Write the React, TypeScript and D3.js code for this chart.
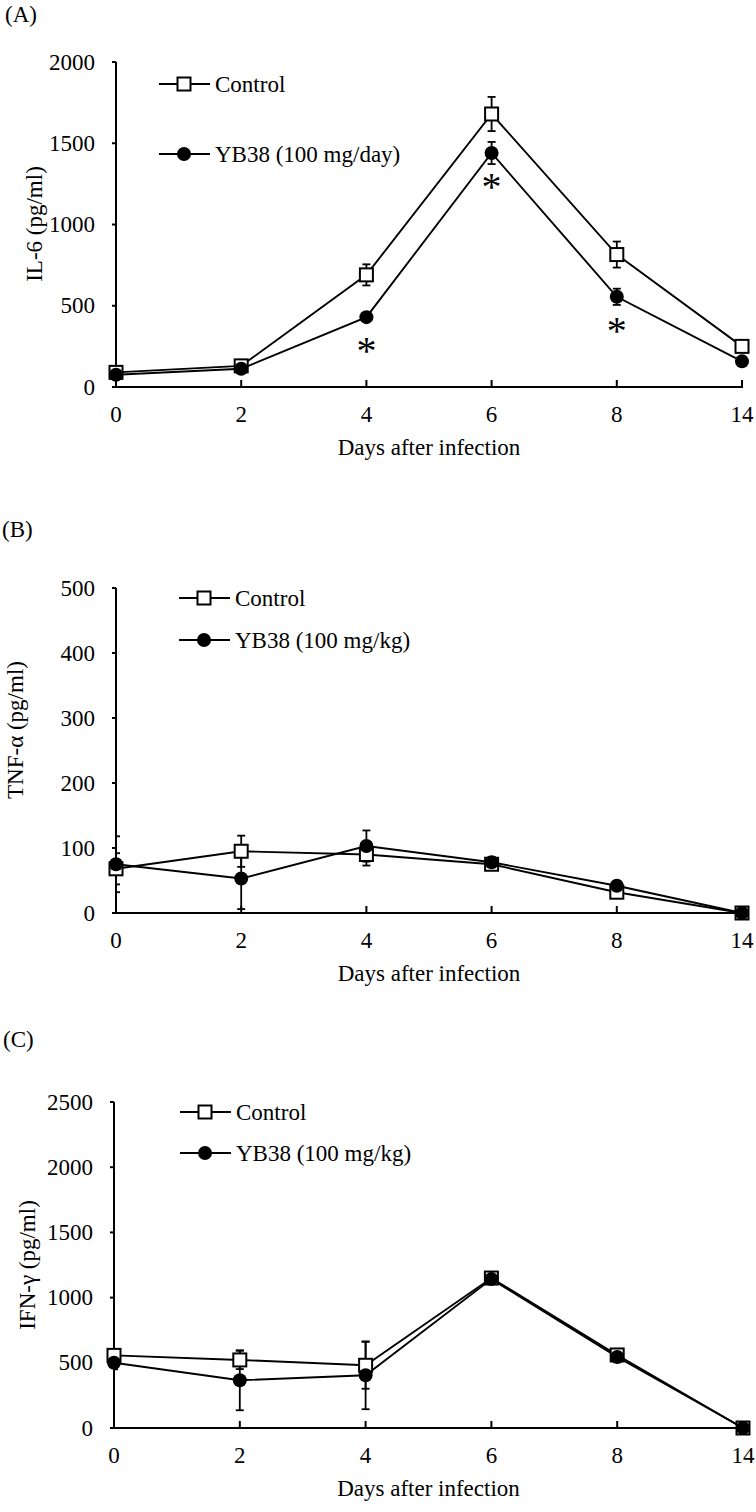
import React from "react";
import * as d3 from "d3";

const days = ["0", "2", "4", "6", "8", "14"];

// Panel A: IL-6
const il6Control = [90, 130, 690, 1680, 815, 250];
const il6ControlErr = [15, 20, 65, 105, 80, 20];
const il6YB38 = [75, 112, 430, 1440, 555, 158];
const il6YB38Err = [10, 15, 20, 68, 50, 15];
const il6Ticks = [0, 500, 1000, 1500, 2000];
const il6Stars = [2, 3, 4]; // indices of days with significance

// Panel B: TNF-α
const tnfControl = [68, 95, 90, 75, 32, 0];
const tnfControlErr = [24, 24, 17, 8, 8, 0];
const tnfYB38 = [75, 53, 103, 78, 42, 0];
const tnfYB38Err = [43, 47, 24, 8, 6, 0];
const tnfTicks = [0, 100, 200, 300, 400, 500];

// Panel C: IFN-γ
const ifnControl = [557, 522, 481, 1150, 560, 0];
const ifnControlErr = [40, 70, 180, 30, 40, 0];
const ifnYB38 = [500, 366, 404, 1142, 545, 0];
const ifnYB38Err = [50, 230, 260, 30, 40, 0];
const ifnTicks = [0, 500, 1000, 1500, 2000, 2500];

const FONT = "'Liberation Serif', 'Times New Roman', serif";
const FS = 23;

type PanelProps = {
  id: string;
  label: string;
  labelPos: [number, number];
  yTitle: string;
  yTitlePos: [number, number];
  x0: number;
  x1: number;
  yTop: number;
  yBottom: number;
  yMax: number;
  ticks: number[];
  control: number[];
  controlErr: number[];
  yb: number[];
  ybErr: number[];
  legend2: string;
  legendX: number;
  legendY: [number, number];
  stars?: number[];
};

function Panel(p: PanelProps) {
  const x = d3.scalePoint<string>().domain(days).range([p.x0, p.x1]);
  const y = d3.scaleLinear().domain([0, p.yMax]).range([p.yBottom, p.yTop]);
  const line = d3
    .line<number>()
    .x((_, i) => x(days[i]) as number)
    .y((v) => y(v));
  const clipId = `clip-${p.id}`;
  const cap = 4;
  const sq = 13;
  const r = 7;
  const errBars = (vals: number[], errs: number[], key: string) =>
    vals.map((v, i) => {
      const cx = x(days[i]) as number;
      const e = errs[i];
      if (!e) return null;
      const yt = y(v + e);
      const yb = y(Math.max(0, v - e));
      return (
        <g key={`${key}-${i}`} stroke="#000" strokeWidth={1.8}>
          <line x1={cx} x2={cx} y1={yt} y2={yb} />
          <line x1={cx - cap} x2={cx + cap} y1={yt} y2={yt} />
          <line x1={cx - cap} x2={cx + cap} y1={yb} y2={yb} />
        </g>
      );
    });
  const midX = (p.x0 + p.x1) / 2;
  return (
    <g fontFamily={FONT} fontSize={FS} fill="#000">
      <defs>
        <clipPath id={clipId}>
          <rect x={p.x0} y={p.yTop - 40} width={p.x1 - p.x0 + 20} height={p.yBottom - p.yTop + 40} />
        </clipPath>
      </defs>
      <text x={p.labelPos[0]} y={p.labelPos[1]}>{p.label}</text>
      {/* y axis */}
      <line x1={p.x0} x2={p.x0} y1={p.yTop} y2={p.yBottom + 1} stroke="#000" strokeWidth={2} />
      {p.ticks.map((t) => (
        <g key={`yt-${t}`}>
          <line x1={p.x0 - 4} x2={p.x0} y1={y(t)} y2={y(t)} stroke="#000" strokeWidth={2} />
          <text x={p.x0 - 21} y={y(t) + 7.6} textAnchor="end">{t}</text>
        </g>
      ))}
      {/* x axis */}
      <line x1={p.x0 - 1} x2={p.x1 + 1} y1={p.yBottom} y2={p.yBottom} stroke="#000" strokeWidth={2} />
      {days.map((d) => (
        <g key={`xt-${d}`}>
          <line x1={x(d)} x2={x(d)} y1={p.yBottom - 7} y2={p.yBottom} stroke="#000" strokeWidth={2} />
          <text x={x(d)} y={p.yBottom + 35} textAnchor="middle">{d}</text>
        </g>
      ))}
      <text x={midX} y={p.yBottom + 68} textAnchor="middle">Days after infection</text>
      <text
        transform={`translate(${p.yTitlePos[0]},${p.yTitlePos[1]}) rotate(-90)`}
        textAnchor="middle"
      >
        {p.yTitle}
      </text>
      {/* error bars */}
      <g clipPath={`url(#${clipId})`}>
        {errBars(p.control, p.controlErr, "ce")}
        {errBars(p.yb, p.ybErr, "ye")}
      </g>
      {/* lines */}
      <path d={line(p.control) || ""} fill="none" stroke="#000" strokeWidth={1.9} />
      <path d={line(p.yb) || ""} fill="none" stroke="#000" strokeWidth={1.9} />
      {/* markers */}
      {p.control.map((v, i) => (
        <rect
          key={`cm-${i}`}
          x={(x(days[i]) as number) - sq / 2}
          y={y(v) - sq / 2}
          width={sq}
          height={sq}
          fill="#fff"
          stroke="#000"
          strokeWidth={2}
        />
      ))}
      {p.yb.map((v, i) => (
        <circle key={`ym-${i}`} cx={x(days[i]) as number} cy={y(v)} r={r} fill="#000" />
      ))}
      {/* significance */}
      {(p.stars || []).map((i) => (
        <text
          key={`st-${i}`}
          x={x(days[i]) as number}
          y={y(p.yb[i]) + 30 + 17}
          textAnchor="middle"
          fontSize={40}
        >
          *
        </text>
      ))}
      {/* legend */}
      <g>
        <line x1={p.legendX} x2={p.legendX + 51} y1={p.legendY[0]} y2={p.legendY[0]} stroke="#000" strokeWidth={1.8} />
        <rect x={p.legendX + 25 - sq / 2} y={p.legendY[0] - sq / 2} width={sq} height={sq} fill="#fff" stroke="#000" strokeWidth={2} />
        <text x={p.legendX + 56} y={p.legendY[0] + 8}>Control</text>
        <line x1={p.legendX} x2={p.legendX + 51} y1={p.legendY[1]} y2={p.legendY[1]} stroke="#000" strokeWidth={1.8} />
        <circle cx={p.legendX + 25} cy={p.legendY[1]} r={r} fill="#000" />
        <text x={p.legendX + 56} y={p.legendY[1] + 8}>{p.legend2}</text>
      </g>
    </g>
  );
}

export default function App() {
  return (
    <svg
      width={756}
      height={1512}
      viewBox="0 0 756 1512"
      style={{ position: "absolute", left: 0, top: 0, background: "#fff" }}
    >
      <rect x={0} y={0} width={756} height={1512} fill="#fff" />
      <Panel
        id="a"
        label="(A)"
        labelPos={[5, 22]}
        yTitle="IL-6 (pg/ml)"
        yTitlePos={[42, 224]}
        x0={116}
        x1={742}
        yTop={62}
        yBottom={387}
        yMax={2000}
        ticks={il6Ticks}
        control={il6Control}
        controlErr={il6ControlErr}
        yb={il6YB38}
        ybErr={il6YB38Err}
        legend2="YB38 (100 mg/day)"
        legendX={159}
        legendY={[84, 154]}
        stars={il6Stars}
      />
      <Panel
        id="b"
        label="(B)"
        labelPos={[2, 537]}
        yTitle="TNF-α (pg/ml)"
        yTitlePos={[23, 730]}
        x0={116}
        x1={742}
        yTop={588}
        yBottom={913}
        yMax={500}
        ticks={tnfTicks}
        control={tnfControl}
        controlErr={tnfControlErr}
        yb={tnfYB38}
        ybErr={tnfYB38Err}
        legend2="YB38 (100 mg/kg)"
        legendX={179}
        legendY={[598, 640]}
      />
      <Panel
        id="c"
        label="(C)"
        labelPos={[3, 1047]}
        yTitle="IFN-γ (pg/ml)"
        yTitlePos={[35, 1265]}
        x0={114}
        x1={743}
        yTop={1102}
        yBottom={1428}
        yMax={2500}
        ticks={ifnTicks}
        control={ifnControl}
        controlErr={ifnControlErr}
        yb={ifnYB38}
        ybErr={ifnYB38Err}
        legend2="YB38 (100 mg/kg)"
        legendX={180}
        legendY={[1112, 1153]}
      />
    </svg>
  );
}
